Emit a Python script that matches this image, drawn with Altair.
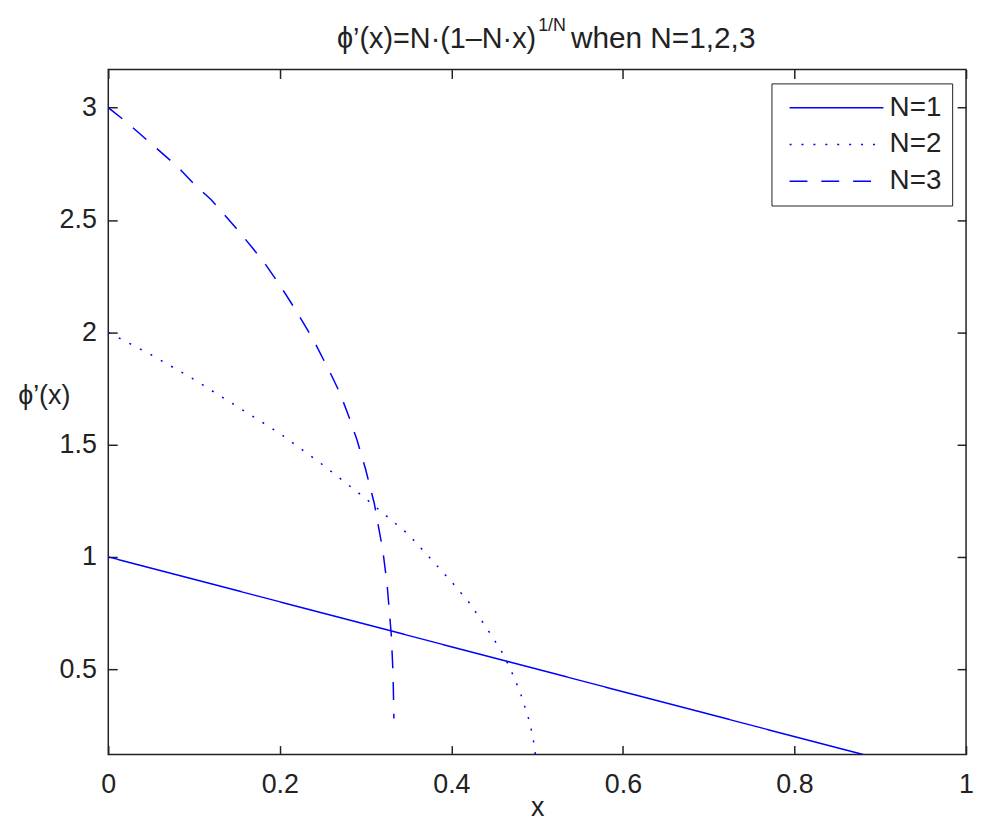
import altair as alt
import pandas as pd

# ---- data ----
series = ["N=1", "N=2", "N=3"]

n1_x = [0.0, 0.88]
n1_y = [1.00, 0.12]

n2_x = [0.0, 0.05, 0.10, 0.15, 0.20, 0.25, 0.30, 0.35, 0.40, 0.42, 0.44, 0.46,
        0.47, 0.48, 0.49, 0.495, 0.499]
n2_y = [2.00, 1.90, 1.79, 1.67, 1.55, 1.41, 1.26, 1.10, 0.89, 0.80, 0.69, 0.57,
        0.49, 0.40, 0.28, 0.20, 0.09]

n3_x = [0.0, 0.02, 0.05, 0.08, 0.10, 0.12, 0.15, 0.18, 0.20, 0.22, 0.24, 0.26,
        0.27, 0.28, 0.29, 0.30, 0.31, 0.32, 0.325, 0.33, 0.332, 0.333]
n3_y = [3.00, 2.94, 2.84, 2.74, 2.66, 2.59, 2.46, 2.32, 2.21, 2.09, 1.96, 1.81,
        1.73, 1.63, 1.52, 1.39, 1.24, 1.03, 0.88, 0.65, 0.48, 0.28]

x_ticks = [0, 0.2, 0.4, 0.6, 0.8, 1]
y_ticks = [0.5, 1, 1.5, 2, 2.5, 3]
x_domain = [0, 1]
y_domain = [0.12, 3.17]

title_main = "ϕ’(x)=N·(1–N·x)"
title_sup = "1/N"
title_tail = "when N=1,2,3"

# ---- table ----
rows = []
for name, xs, ys in zip(series, [n1_x, n2_x, n3_x], [n1_y, n2_y, n3_y]):
    for a, b in zip(xs, ys):
        rows.append({"x": a, "y": b, "series": name})
df = pd.DataFrame(rows)

FONT = "Liberation Sans"
INK = "#222222"
W, H = 864, 690

xscale = alt.Scale(domain=x_domain, nice=False, zero=False)
yscale = alt.Scale(domain=y_domain, nice=False, zero=False)

lines = alt.Chart(df).mark_line(clip=True, strokeWidth=1.5, color="blue").encode(
    x=alt.X("x:Q", scale=xscale, axis=alt.Axis(
        orient="bottom", values=x_ticks, format="~g", tickSize=0, domain=False,
        grid=False, labelFlush=False, labelFont=FONT, labelFontSize=27,
        labelColor=INK, labelPadding=17, title="x", titleFont=FONT,
        titleFontSize=27, titleFontWeight="normal", titleColor=INK,
        titleX=432, titleY=61, titleAlign="center", titleBaseline="alphabetic")),
    y=alt.Y("y:Q", scale=yscale, axis=alt.Axis(
        orient="left", values=y_ticks, format="~g", tickSize=0, domain=False,
        grid=False, labelFlush=False, labelFont=FONT, labelFontSize=27,
        labelColor=INK, labelPadding=12, title="ϕ’(x)", titleFont=FONT,
        titleFontSize=27, titleFontWeight="normal", titleColor=INK,
        titleAngle=0, titleX=-65, titleY=328, titleAlign="center",
        titleBaseline="middle")),
    strokeDash=alt.StrokeDash("series:N", scale=alt.Scale(
        domain=series, range=[[1, 0], [2, 10], [18, 14]]),
        legend=alt.Legend(
            title=None, orient="none", legendX=668, legendY=14, padding=10,
            strokeColor=INK, fillColor="white", cornerRadius=0,
            symbolType="M-3.5,0H3.5", symbolSize=729, symbolStrokeWidth=1.5,
            symbolStrokeColor="blue", symbolOffset=41, labelOffset=39,
            rowPadding=8, labelFont=FONT, labelFontSize=28, labelColor=INK,
            labelExpr="datum.label + ' \u2009\u2009'")),
)


def tick_layer(xorient, yorient):
    return alt.Chart(df).mark_line(opacity=0).encode(
        x=alt.X("x:Q", scale=xscale, axis=alt.Axis(
            orient=xorient, offset=-9, tickSize=9, values=x_ticks, labels=False,
            domain=False, grid=False, title=None, tickColor=INK, tickWidth=1.5)),
        y=alt.Y("y:Q", scale=yscale, axis=alt.Axis(
            orient=yorient, offset=-9, tickSize=9, values=y_ticks, labels=False,
            domain=False, grid=False, title=None, tickColor=INK, tickWidth=1.5)),
    )


ticks_in = tick_layer("bottom", "left")
ticks_out = tick_layer("top", "right")

one = alt.Data(values=[{}])
t1 = alt.Chart(one).mark_text(
    align="right", baseline="alphabetic", font=FONT, fontSize=29, color=INK,
    text=title_main).encode(x=alt.value(431), y=alt.value(-22))
t2 = alt.Chart(one).mark_text(
    align="left", baseline="alphabetic", font=FONT, fontSize=18, color=INK,
    text=title_sup).encode(x=alt.value(433), y=alt.value(-39))
t3 = alt.Chart(one).mark_text(
    align="left", baseline="alphabetic", font=FONT, fontSize=30, color=INK,
    text=title_tail).encode(x=alt.value(466), y=alt.value(-22))

chart = alt.layer(lines, ticks_in, ticks_out, t1, t2, t3).resolve_axis(
    x="independent", y="independent"
).properties(
    width=W, height=H, autosize="none", background="white",
    padding={"left": 101, "top": 59, "right": 8, "bottom": 65},
).configure_view(stroke=INK, strokeWidth=1.5)

chart.save("out.html", embed_options={"renderer": "svg", "actions": False})
